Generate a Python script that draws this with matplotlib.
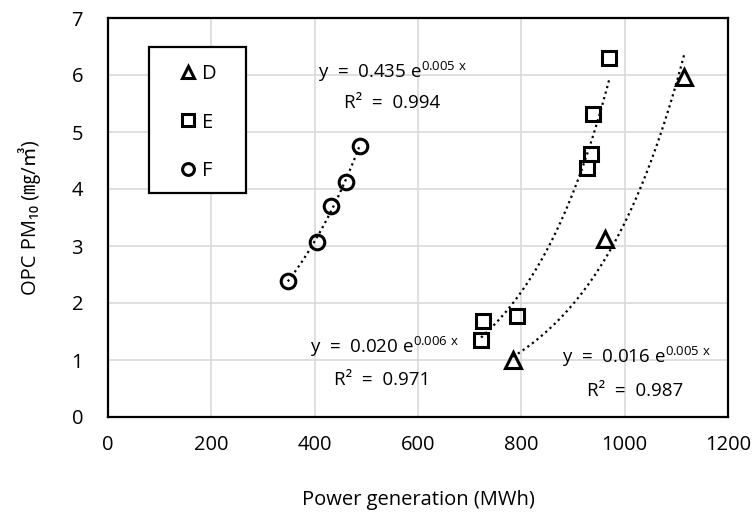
import numpy as np
import matplotlib
matplotlib.use("Agg")
import matplotlib.pyplot as plt
from matplotlib.lines import Line2D
from matplotlib.patches import Rectangle

FONT = ["Open Sans", "Noto Sans CJK KR", "DejaVu Sans"]
plt.rcParams.update({
    "font.family": FONT,
    "mathtext.fontset": "custom",
    "mathtext.rm": "Open Sans",
    "mathtext.it": "Open Sans",
    "mathtext.default": "regular",
    "font.size": 13,
})

# ── data ────────────────────────────────────────────────────────────────────
d_x = [784, 962, 1115]
d_y = [1.00, 3.12, 5.96]

e_x = [722, 726, 792, 927, 935, 939, 970]
e_y = [1.35, 1.68, 1.77, 4.37, 4.61, 5.32, 6.30]

f_x = [348, 404, 431, 460, 487]
f_y = [2.39, 3.07, 3.70, 4.12, 4.76]

series = [
    ("D", d_x, d_y, "^"),
    ("E", e_x, e_y, "s"),
    ("F", f_x, f_y, "o"),
]

# trend line labels: equation, R², and where they sit (data coords, left/centre)
eq_text = {
    "F": ("y  =  0.435 e$^{0.005\\ x}$", "R²  =  0.994", (406, 6.05), (456, 5.51)),
    "E": ("y  =  0.020 e$^{0.006\\ x}$", "R²  =  0.971", (391, 1.23), (438, 0.65)),
    "D": ("y  =  0.016 e$^{0.005\\ x}$", "R²  =  0.987", (879, 1.05), (928, 0.46)),
}

fig = plt.figure(figsize=(7.54, 5.16), dpi=100)
ax = fig.add_axes([108 / 754, 99 / 516, 620 / 754, 399 / 516])

handles = []
for name, xs, ys, mk in series:
    xs = np.array(xs, dtype=float)
    ys = np.array(ys, dtype=float)
    # exponential trend line fitted to the points (Excel style)
    b, ln_a = np.polyfit(xs, np.log(ys), 1)
    xx = np.linspace(xs.min(), xs.max(), 100)
    ax.plot(xx, np.exp(ln_a) * np.exp(b * xx), color="black", linestyle=(0, (1, 1.6)),
            linewidth=1.6, zorder=3)
    ax.plot(xs, ys, linestyle="none", marker=mk, markersize=11 if mk == "^" else 10.5,
            markerfacecolor="none", markeredgecolor="black", markeredgewidth=2.2, zorder=4)
    handles.append(Line2D([], [], linestyle="none", marker=mk, markersize=8.5,
                          markerfacecolor="none", markeredgecolor="black",
                          markeredgewidth=2.2, label=name))

    eq, r2, eq_pos, r2_pos = eq_text[name]
    ax.text(*eq_pos, eq, fontsize=13.5, ha="left", va="center", zorder=5)
    ax.text(*r2_pos, r2, fontsize=13.5, ha="left", va="center", zorder=5)

ax.set_xlim(0, 1200)
ax.set_ylim(0, 7)
ax.set_xticks(np.arange(0, 1201, 200))
ax.set_yticks(np.arange(0, 8, 1))
ax.grid(True, color="#d9d9d9", linewidth=1.2, zorder=0)
ax.set_axisbelow(True)
ax.tick_params(length=0, labelsize=14.5)
ax.tick_params(axis="x", pad=13)
ax.tick_params(axis="y", pad=18)
for sp in ax.spines.values():
    sp.set_color("black")
    sp.set_linewidth(1.6)

ax.set_xlabel("Power generation (MWh)", fontsize=14.5, labelpad=25)
ax.set_ylabel("OPC PM₁₀ (㎎/㎥)", fontsize=14.5, labelpad=22)

# legend box drawn separately so its size can match the reference
ax.add_patch(Rectangle((0.066, 0.561), 0.1566, 0.366, transform=ax.transAxes,
                       facecolor="white", edgecolor="black", linewidth=1.6, zorder=6))
leg = ax.legend(handles=handles, loc="center left", bbox_to_anchor=(0.1134, 0.738),
                frameon=False, fontsize=14.5, labelspacing=1.42,
                handletextpad=0.17, handlelength=1.0, borderpad=0, borderaxespad=0)
leg.set_zorder(7)

fig.savefig("out.png", dpi=100)
